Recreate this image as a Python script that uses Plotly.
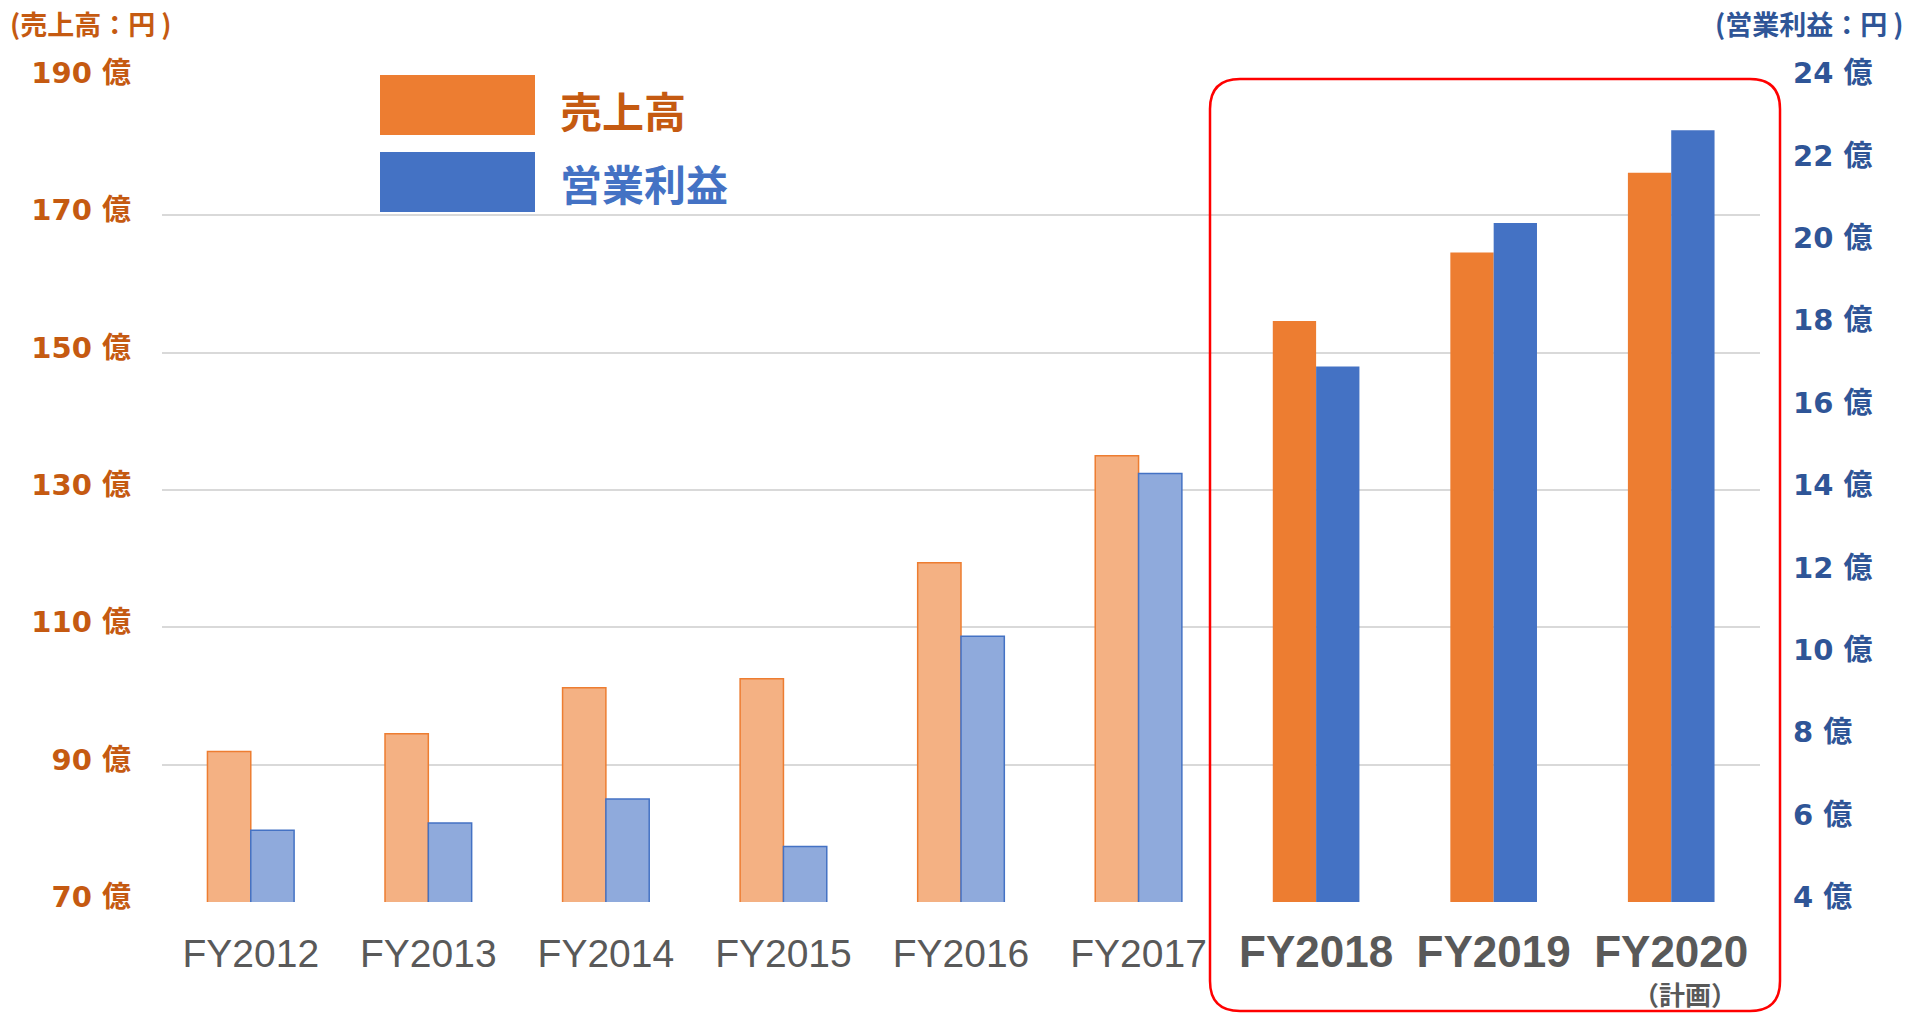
import plotly.graph_objects as go

# ---- data ----
years = ["FY2012", "FY2013", "FY2014", "FY2015", "FY2016", "FY2017", "FY2018", "FY2019", "FY2020"]
sales = [91.9, 94.5, 101.2, 102.5, 119.4, 135.0, 154.6, 164.6, 176.2]      # 売上高 (億円)
profit = [5.74, 5.92, 6.50, 5.35, 10.45, 14.40, 17.00, 20.48, 22.73]      # 営業利益 (億円)
highlighted = ["FY2018", "FY2019", "FY2020"]
plan_note = "（計画）"
left_ticks = [70, 90, 110, 130, 150, 170, 190]
right_ticks = [4, 6, 8, 10, 12, 14, 16, 18, 20, 22, 24]
unit = "億"

# ---- layout geometry (pixels) ----
W, H = 1909, 1013
L, R, T, B = 162, 1760, 78, 902


def px_x(px):
    return (px - L) / (R - L)


def px_y(py):
    return (B - py) / (B - T)


ORANGE, ORANGE_L = "#ED7D31", "#F4B183"
BLUE, BLUE_L = "#4472C4", "#8FAADC"
ORANGE_TXT, BLUE_TXT = "#C55A11", "#2F5597"
GRAY = "#595959"

hl = [y in highlighted for y in years]
bw = 0.244

fig = go.Figure()
fig.add_trace(go.Bar(
    x=years, y=sales, name="売上高", yaxis="y",
    width=bw, offset=-bw,
    marker=dict(color=[ORANGE if h else ORANGE_L for h in hl],
                line=dict(color=ORANGE, width=[0 if h else 1.5 for h in hl])),
    showlegend=False,
))
fig.add_trace(go.Bar(
    x=years, y=profit, name="営業利益", yaxis="y2",
    width=bw, offset=0,
    marker=dict(color=[BLUE if h else BLUE_L for h in hl],
                line=dict(color=BLUE, width=[0 if h else 1.5 for h in hl])),
    showlegend=False,
))

ticktext = [("<b><span style='font-size:44px'>%s</span></b>" % y) if h else y for y, h in zip(years, hl)]

tick_font_num = "DejaVu Sans, Noto Sans CJK JP"
cjk = "Noto Sans CJK JP"

fig.update_layout(
    width=W, height=H,
    margin=dict(l=L, r=W - R, t=T, b=H - B, pad=0),
    paper_bgcolor="white", plot_bgcolor="white",
    barmode="overlay",
    xaxis=dict(
        type="category", range=[-0.5, len(years) - 0.5],
        tickmode="array", tickvals=years, ticktext=ticktext,
        tickfont=dict(family="Liberation Sans, Arial", size=39, color=GRAY),
        showgrid=False, zeroline=False, showline=False, ticks="",
        ticklabelstandoff=25,
    ),
    yaxis=dict(
        range=[70, 190], tickmode="array", tickvals=left_ticks,
        ticktext=["%d %s" % (v, unit) for v in left_ticks],
        tickfont=dict(family=tick_font_num, size=29, color=ORANGE_TXT, weight="bold"),
        showgrid=True, gridcolor="#D9D9D9", gridwidth=2,
        zeroline=False, showline=False, ticks="",
        ticklabelstandoff=30, ticklabelshift=-5,
    ),
    yaxis2=dict(
        range=[4, 24], tickmode="array", tickvals=right_ticks,
        ticktext=["%d %s" % (v, unit) for v in right_ticks],
        overlaying="y", side="right",
        tickfont=dict(family=tick_font_num, size=29, color=BLUE_TXT, weight="bold"),
        showgrid=False, zeroline=False, showline=False, ticks="",
        ticklabelstandoff=32, ticklabelshift=-5,
    ),
)

annotations = [
    dict(text="<b>(売上高：円 )</b>", xref="paper", yref="paper",
         x=px_x(8), y=px_y(24), xanchor="left", yanchor="middle", showarrow=False,
         font=dict(family=cjk, size=27, color=ORANGE_TXT)),
    dict(text="<b>(営業利益：円 )</b>", xref="paper", yref="paper",
         x=px_x(1906), y=px_y(24), xanchor="right", yanchor="middle", showarrow=False,
         font=dict(family=cjk, size=27, color=BLUE_TXT)),
    dict(text="<b>売上高</b>", xref="paper", yref="paper",
         x=px_x(558), y=px_y(110), xanchor="left", yanchor="middle", showarrow=False,
         font=dict(family=cjk, size=42, color=ORANGE_TXT)),
    dict(text="<b>営業利益</b>", xref="paper", yref="paper",
         x=px_x(558), y=px_y(182), xanchor="left", yanchor="middle", showarrow=False,
         font=dict(family=cjk, size=42, color=BLUE)),
    dict(text="<b>%s</b>" % plan_note, xref="x", yref="paper",
         x=years[-1], y=px_y(993), xanchor="center", yanchor="middle", showarrow=False,
         xshift=14, borderpad=0, font=dict(family=cjk, size=26, color=GRAY)),
]

# red rounded frame around the highlighted years
x0, x1, y0, y1, r = 1210, 1780, 79, 1011, 30
pts = [
    ("M", [(x0 + r, y0)]), ("L", [(x1 - r, y0)]), ("Q", [(x1, y0), (x1, y0 + r)]),
    ("L", [(x1, y1 - r)]), ("Q", [(x1, y1), (x1 - r, y1)]),
    ("L", [(x0 + r, y1)]), ("Q", [(x0, y1), (x0, y1 - r)]),
    ("L", [(x0, y0 + r)]), ("Q", [(x0, y0), (x0 + r, y0)]),
]
path = " ".join(cmd + " " + " ".join("%.5f,%.5f" % (px_x(a), px_y(b)) for a, b in p) for cmd, p in pts) + " Z"

shapes = [
    dict(type="path", xref="paper", yref="paper", path=path,
         line=dict(color="#FF0000", width=2.5), fillcolor="rgba(0,0,0,0)"),
    dict(type="rect", xref="paper", yref="paper",
         x0=px_x(380), x1=px_x(535), y0=px_y(135), y1=px_y(75),
         fillcolor=ORANGE, line=dict(width=0)),
    dict(type="rect", xref="paper", yref="paper",
         x0=px_x(380), x1=px_x(535), y0=px_y(212), y1=px_y(152),
         fillcolor=BLUE, line=dict(width=0)),
]

fig.update_layout(annotations=annotations, shapes=shapes)

fig.write_html("out.html", config={"displayModeBar": False},
               post_script="document.body.style.margin='0';document.body.style.overflow='hidden';")
